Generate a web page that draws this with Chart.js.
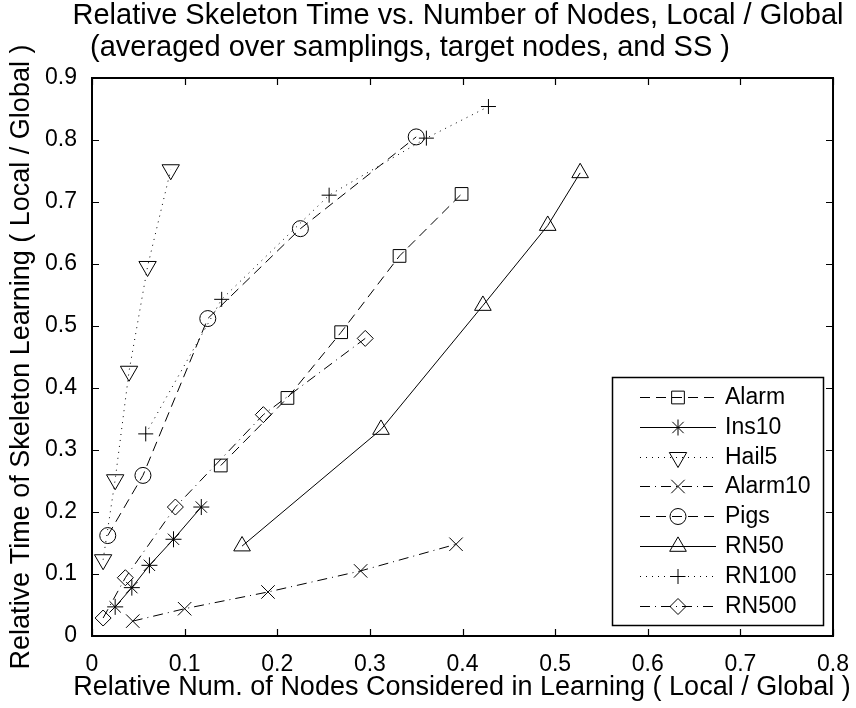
<!DOCTYPE html>
<html>
<head>
<meta charset="utf-8">
<script src="https://cdn.jsdelivr.net/npm/chart.js@4.4.1/dist/chart.umd.min.js"></script>
<style>
  html, body { margin: 0; padding: 0; background: #fff; }
  #wrap { width: 856px; height: 708px; }
</style>
</head>
<body>
<div id="wrap"><canvas id="chart" width="856" height="708"></canvas></div>
<script>
// tick labels
const xTicks = ['0', '0.1', '0.2', '0.3', '0.4', '0.5', '0.6', '0.7', '0.8'];
const yTicks = ['0', '0.1', '0.2', '0.3', '0.4', '0.5', '0.6', '0.7', '0.8', '0.9'];

const seriesNames = ['Alarm', 'Ins10', 'Hail5', 'Alarm10', 'Pigs', 'RN50', 'RN100', 'RN500'];

// values (x = relative num. of nodes, y = relative time)
const alarmX   = [0.139, 0.211, 0.269, 0.332, 0.399];
const alarmY   = [0.275, 0.384, 0.490, 0.613, 0.713];
const ins10X   = [0.025, 0.043, 0.062, 0.088, 0.118];
const ins10Y   = [0.047, 0.078, 0.114, 0.156, 0.208];
const hail5X   = [0.012, 0.025, 0.040, 0.060, 0.085];
const hail5Y   = [0.123, 0.252, 0.427, 0.596, 0.752];
const alarm10X = [0.044, 0.100, 0.190, 0.290, 0.393];
const alarm10Y = [0.024, 0.044, 0.071, 0.105, 0.148];
const pigsX    = [0.017, 0.055, 0.125, 0.225, 0.350];
const pigsY    = [0.162, 0.259, 0.512, 0.657, 0.805];
const rn50X    = [0.162, 0.312, 0.422, 0.492, 0.527];
const rn50Y    = [0.145, 0.333, 0.533, 0.662, 0.747];
const rn100X   = [0.058, 0.140, 0.256, 0.361, 0.428];
const rn100Y   = [0.326, 0.543, 0.711, 0.803, 0.854];
const rn500X   = [0.012, 0.036, 0.090, 0.185, 0.295];
const rn500Y   = [0.029, 0.094, 0.208, 0.357, 0.480];

const seriesX = [alarmX, ins10X, hail5X, alarm10X, pigsX, rn50X, rn100X, rn500X];
const seriesY = [alarmY, ins10Y, hail5Y, alarm10Y, pigsY, rn50Y, rn100Y, rn500Y];

// matlab-ish line specs
const DASHED = [10, 6], DOTTED = [1, 5], DASHDOT = [10, 5, 1, 5], SOLID = [];
const styles = [
  { marker: 'rect',     radius: 9,   rot: 0,   dash: DASHED },
  { marker: 'star',     radius: 8,   rot: 0,   dash: SOLID },
  { marker: 'triangle', radius: 10,  rot: 180, dash: DOTTED },
  { marker: 'crossRot', radius: 9.5, rot: 0,   dash: DASHDOT },
  { marker: 'circle',   radius: 8,   rot: 0,   dash: DASHED },
  { marker: 'triangle', radius: 9.6, rot: 0,   dash: SOLID },
  { marker: 'cross',    radius: 7.5, rot: 0,   dash: DOTTED },
  { marker: 'rectRot',  radius: 8,   rot: 0,   dash: DASHDOT }
];

const FONT = '"Liberation Sans", Arial, sans-serif';
Chart.defaults.font.family = FONT;
Chart.defaults.color = '#000';

const datasets = seriesNames.map((name, i) => ({
  label: name,
  data: seriesX[i].map((x, j) => ({ x: x, y: seriesY[i][j] })),
  showLine: true,
  borderColor: '#000',
  borderWidth: 1,
  borderDash: styles[i].dash,
  backgroundColor: 'rgba(0,0,0,0)',
  pointStyle: styles[i].marker,
  pointRadius: styles[i].radius,
  pointRotation: styles[i].rot,
  pointBorderColor: '#000',
  pointBorderWidth: 1,
  pointBackgroundColor: 'rgba(0,0,0,0)',
  tension: 0
}));

// box, inward ticks, titles and the legend
const matlabFrame = {
  id: 'matlabFrame',
  afterDraw(chart) {
    const ctx = chart.ctx;
    const a = chart.chartArea;
    const xs = chart.scales.x, ys = chart.scales.y;
    ctx.save();
    ctx.strokeStyle = '#000';
    ctx.setLineDash([]);
    ctx.lineWidth = 1.2;
    ctx.beginPath();
    const tl = 7;
    xTicks.forEach(t => {
      const px = Math.round(xs.getPixelForValue(Number(t))) + 0.5;
      ctx.moveTo(px, a.bottom); ctx.lineTo(px, a.bottom - tl);
      ctx.moveTo(px, a.top); ctx.lineTo(px, a.top + tl);
    });
    yTicks.forEach(t => {
      const py = Math.round(ys.getPixelForValue(Number(t))) + 0.5;
      ctx.moveTo(a.left, py); ctx.lineTo(a.left + tl, py);
      ctx.moveTo(a.right, py); ctx.lineTo(a.right - tl, py);
    });
    ctx.stroke();
    ctx.lineWidth = 2;
    ctx.strokeRect(a.left, a.top, a.right - a.left, a.bottom - a.top);

    // titles
    ctx.fillStyle = '#000';
    ctx.textBaseline = 'middle';
    ctx.font = '29px ' + FONT;
    ctx.textAlign = 'center';
    ctx.fillText('Relative Skeleton Time vs. Number of Nodes, Local / Global', 458, 16);
    ctx.textAlign = 'left';
    ctx.fillText('(averaged over samplings, target nodes, and SS )', 90, 48);
    ctx.font = '27px ' + FONT;
    ctx.textAlign = 'center';
    ctx.fillText('Relative Num. of Nodes Considered in Learning ( Local / Global )', 462, 688);
    ctx.save();
    ctx.translate(22, (a.top + a.bottom) / 2);
    ctx.rotate(-Math.PI / 2);
    ctx.fillText('Relative Time of Skeleton Learning ( Local / Global )', 0, 0);
    ctx.restore();

    // legend
    const lx = 612, ly = 377, lw = 211, lh = 248;
    ctx.fillStyle = '#fff';
    ctx.fillRect(lx, ly, lw, lh);
    ctx.lineWidth = 1.5;
    ctx.strokeRect(lx + 0.5, ly + 0.5, lw, lh);
    ctx.lineWidth = 1;
    ctx.font = '23px ' + FONT;
    ctx.textAlign = 'left';
    seriesNames.forEach((name, i) => {
      const y = Math.round(ly + 20 + i * 29.8) + 0.5;
      const st = styles[i];
      ctx.beginPath();
      ctx.setLineDash(st.dash);
      ctx.moveTo(640, y); ctx.lineTo(716, y);
      ctx.stroke();
      ctx.setLineDash([]);
      ctx.fillStyle = 'rgba(0,0,0,0)';
      Chart.helpers.drawPoint(ctx, {
        pointStyle: st.marker, radius: st.radius, rotation: st.rot, borderWidth: 1
      }, 678, y);
      ctx.fillStyle = '#000';
      ctx.fillText(name, 725, y);
    });
    ctx.restore();
  }
};

new Chart(document.getElementById('chart'), {
  type: 'scatter',
  data: { datasets: datasets },
  options: {
    responsive: false,
    devicePixelRatio: 1,
    animation: false,
    layout: { padding: { left: 0, right: 22, top: 78, bottom: 0 } },
    plugins: { legend: { display: false }, tooltip: { enabled: false } },
    scales: {
      x: {
        type: 'linear', min: 0, max: 0.8,
        afterFit: s => { s.height = 72; },
        afterBuildTicks: s => { s.ticks = xTicks.map(t => ({ value: Number(t) })); },
        grid: { display: false },
        border: { display: false },
        ticks: { padding: 7, font: { size: 23 }, color: '#000', maxRotation: 0, autoSkip: false,
                 callback: (v, i) => xTicks[i] }
      },
      y: {
        type: 'linear', min: 0, max: 0.9,
        afterFit: s => { s.width = 92; },
        afterBuildTicks: s => { s.ticks = yTicks.map(t => ({ value: Number(t) })); },
        grid: { display: false },
        border: { display: false },
        ticks: { padding: 7, font: { size: 23 }, color: '#000', autoSkip: false,
                 callback: (v, i) => yTicks[i] }
      }
    }
  },
  plugins: [matlabFrame]
});
</script>
</body>
</html>
